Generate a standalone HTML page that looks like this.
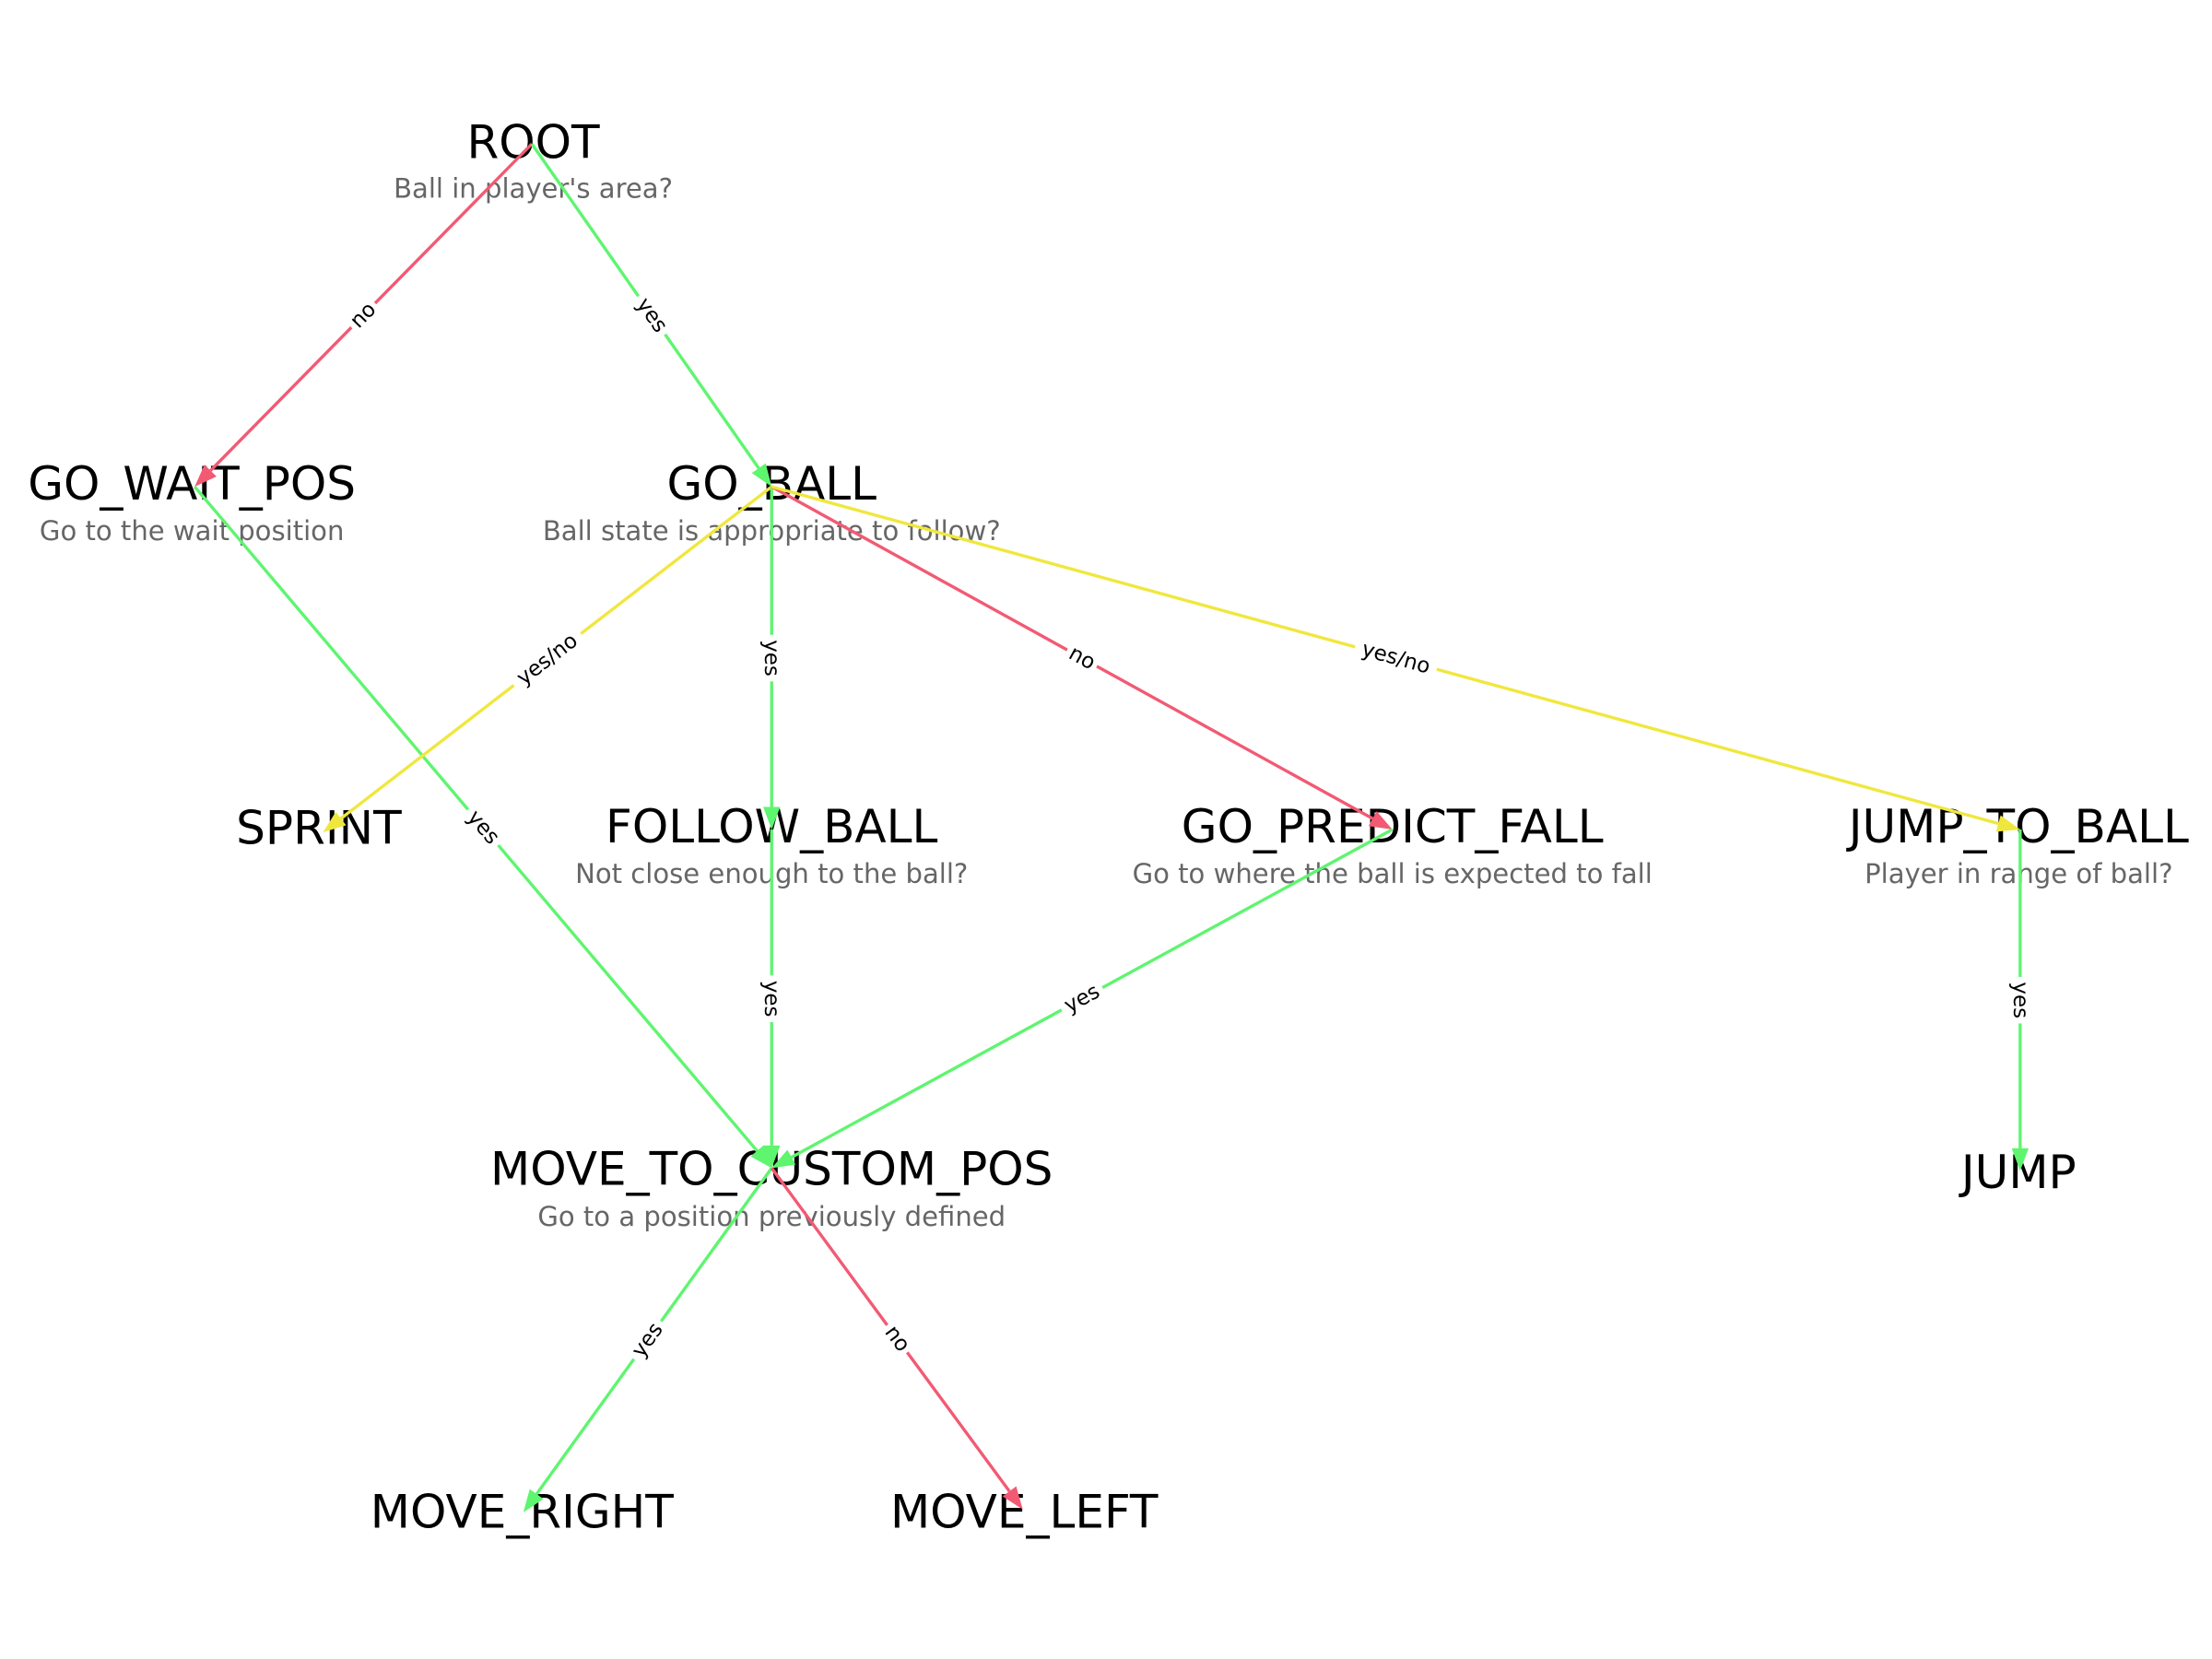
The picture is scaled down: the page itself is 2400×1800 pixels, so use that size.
<!DOCTYPE html>
<html><head><meta charset="utf-8"><style>
html,body{margin:0;padding:0;background:#fff;width:2400px;height:1800px;overflow:hidden}
svg{display:block}
.t{font-family:"DejaVu Sans","Liberation Sans",sans-serif;font-size:32.7px;fill:#000;text-anchor:middle}
.s{font-family:"DejaVu Sans","Liberation Sans",sans-serif;font-size:19px;fill:#666;text-anchor:middle}
.e{font-family:"DejaVu Sans","Liberation Sans",sans-serif;font-size:15px;fill:#000;text-anchor:middle;dominant-baseline:central}
</style></head><body>
<svg id="g" width="2400" height="1800" viewBox="0 0 1568 1176" xmlns="http://www.w3.org/2000/svg">
<g id="nodes">
<text class="t" x="378" y="112">ROOT</text><text class="s" x="378" y="140">Ball in player's area?</text>
<text class="t" x="136" y="354">GO_WAIT_POS</text><text class="s" x="136" y="383">Go to the wait position</text>
<text class="t" x="547" y="354">GO_BALL</text><text class="s" x="547" y="383">Ball state is appropriate to follow?</text>
<text class="t" x="226" y="598">SPRINT</text>
<text class="t" x="547" y="597">FOLLOW_BALL</text><text class="s" x="547" y="626">Not close enough to the ball?</text>
<text class="t" x="987" y="597">GO_PREDICT_FALL</text><text class="s" x="987" y="626">Go to where the ball is expected to fall</text>
<text class="t" x="1431" y="597">JUMP_TO_BALL</text><text class="s" x="1431" y="626">Player in range of ball?</text>
<text class="t" x="547" y="840">MOVE_TO_CUSTOM_POS</text><text class="s" x="547" y="869">Go to a position previously defined</text>
<text class="t" x="1431" y="842">JUMP</text>
<text class="t" x="370" y="1083">MOVE_RIGHT</text>
<text class="t" x="726" y="1083">MOVE_LEFT</text>
</g>
<g id="edges"></g>
</svg>
<script>
var R="#f25a74",G="#5ef56f",Y="#f0e73e";
var P={ROOT:[377,102],GW:[138,345],GB:[547,345],SP:[229,590],FB:[547,588],GP:[987,588],JB:[1432,588],MT:[547,828],J:[1432,830],MR:[371,1072],ML:[725,1070]};
var E=[["ROOT","GW",R,"no"],["ROOT","GB",G,"yes"],["GW","MT",G,"yes"],["GB","SP",Y,"yes/no"],["GB","FB",G,"yes"],["GB","GP",R,"no"],["GB","JB",Y,"yes/no"],["FB","MT",G,"yes"],["GP","MT",G,"yes"],["JB","J",G,"yes"],["MT","MR",G,"yes"],["MT","ML",R,"no"]];
var h="";
E.forEach(function(e){var a=P[e[0]],b=P[e[1]],dx=b[0]-a[0],dy=b[1]-a[1],L=Math.hypot(dx,dy),ux=dx/L,uy=dy/L;
var al=16,aw=6,bx=b[0]-ux*al,by=b[1]-uy*al;
h+='<line x1="'+a[0]+'" y1="'+a[1]+'" x2="'+bx+'" y2="'+by+'" stroke="'+e[2]+'" stroke-width="2.2"/>';
h+='<polygon points="'+b[0]+','+b[1]+' '+(bx-uy*aw)+','+(by+ux*aw)+' '+(bx+uy*aw)+','+(by-ux*aw)+'" fill="'+e[2]+'"/>';
var mx=(a[0]+b[0])/2,my=(a[1]+b[1])/2,ang=Math.atan2(dy,dx)*180/Math.PI;if(ang>90)ang-=180;if(ang<-90)ang+=180;
var w=e[3].length*9+6;
h+='<g transform="translate('+mx+','+my+') rotate('+ang+')"><rect x="'+(-w/2)+'" y="-10" width="'+w+'" height="20" fill="#fff"/><text class="e" x="0" y="0">'+e[3]+'</text></g>';});
document.getElementById("edges").innerHTML=h;
</script>
</body></html>
